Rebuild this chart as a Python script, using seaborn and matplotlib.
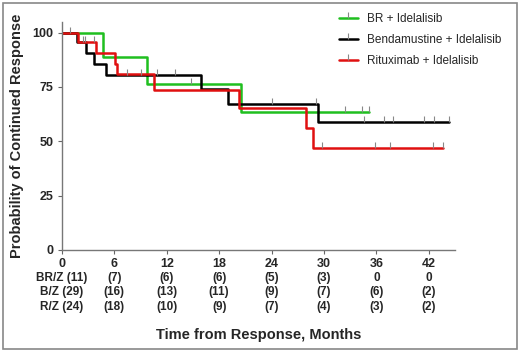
"""Kaplan-Meier style duration of response curves with number-at-risk table."""

import numpy as np
import pandas as pd
import seaborn as sns
import matplotlib.pyplot as plt
from matplotlib.lines import Line2D
from matplotlib.patches import Rectangle

# step curves: event times (months) and survival (%)
green_t = [0, 4.7, 9.8, 20.5]
green_s = [100, 88.9, 76.2, 63.5]
green_end = 35.1
black_t = [0, 1.7, 2.8, 3.7, 5.1, 15.9, 19.0, 29.3]
black_s = [100, 95.5, 90.7, 85.5, 80.6, 74.2, 67.1, 58.8]
black_end = 44.3
red_t = [0, 1.8, 3.9, 6.1, 6.3, 10.6, 20.3, 27.9, 28.7]
red_s = [100, 95.7, 90.7, 85.8, 80.9, 73.4, 65.2, 56.3, 46.8]
red_end = 43.6

# censor marks (months)
green_cens = [0.9, 14.8, 32.4, 34.3, 35.1]
black_cens = [2.4, 2.6, 7.5, 9.0, 10.9, 12.9, 24.0, 29.1, 34.6, 36.9, 37.9, 41.5, 42.6, 44.3]
red_cens = [3.7, 29.8, 35.8, 37.6, 42.5, 43.6]

groups = ["BR + Idelalisib", "Bendamustine + Idelalisib", "Rituximab + Idelalisib"]
colors = ["#1fbf1f", "#000000", "#e01010"]

# number at risk
risk_ticks = [0, 6, 12, 18, 24, 30, 36, 42]
risk_labels = ["BR/Z (11)", "B/Z (29)", "R/Z (24)"]
risk_br = ["(7)", "(6)", "(6)", "(5)", "(3)", "0", "0"]
risk_b = ["(16)", "(13)", "(11)", "(9)", "(7)", "(6)", "(2)"]
risk_r = ["(18)", "(10)", "(9)", "(7)", "(4)", "(3)", "(2)"]


def step_value(times, surv, t):
    idx = np.searchsorted(times, t, side="right") - 1
    return surv[idx]


sns.set_style("ticks")
plt.rcParams["font.family"] = ["Liberation Sans", "DejaVu Sans"]

curves = [(green_t, green_s, green_end, green_cens),
          (black_t, black_s, black_end, black_cens),
          (red_t, red_s, red_end, red_cens)]

rows = []
for name, (t, s, end, _) in zip(groups, curves):
    for ti, si in zip(list(t) + [end], list(s) + [s[-1]]):
        rows.append({"time": ti, "surv": si, "group": name})
df = pd.DataFrame(rows)

fig = plt.figure(figsize=(5.2, 3.52), dpi=100)
ax = fig.add_axes([0.119, 0.29, 0.756, 0.648])

sns.lineplot(data=df, x="time", y="surv", hue="group", palette=colors,
             hue_order=groups, drawstyle="steps-post", estimator=None,
             linewidth=1.8, ax=ax, legend=False)

for (t, s, end, cens), c in zip(curves, colors):
    ys = [step_value(t, s, ct) for ct in cens]
    ax.plot(cens, ys, linestyle="none", marker=2, markersize=4,
            markeredgewidth=0.8, color="#888888")

ax.set_xlim(0, 45)
ax.set_ylim(0, 105)
ax.set_xticks(risk_ticks)
ax.set_yticks([0, 25, 50, 75, 100])
ax.tick_params(axis="both", labelsize=9, length=3, width=0.8, color="#666666", pad=3)
for lab in ax.get_xticklabels() + ax.get_yticklabels():
    lab.set_fontweight("bold")
sns.despine(ax=ax)
for sp in ["left", "bottom"]:
    ax.spines[sp].set_color("#777777")
    ax.spines[sp].set_linewidth(1.0)

ax.set_xlabel("")
ax.set_ylabel("Probability of Continued Response", fontsize=10.5,
              fontweight="bold", labelpad=6)

# number-at-risk table
trans = ax.get_xaxis_transform()
for r, (lab, vals) in enumerate(zip(risk_labels, [risk_br, risk_b, risk_r])):
    y = -0.123 - r * 0.0635
    ax.text(0, y, lab, transform=trans, ha="center", va="center",
            fontsize=8.5, fontweight="bold")
    for xv, v in zip(risk_ticks[1:], vals):
        ax.text(xv, y, v, transform=trans, ha="center", va="center",
                fontsize=8.5, fontweight="bold")

ax.text(0.5, -0.373, "Time from Response, Months", transform=ax.transAxes,
        ha="center", va="center", fontsize=10.5, fontweight="bold")

handles = [Line2D([0], [0], color=c, lw=1.8, marker=2, markersize=4,
                  markeredgecolor="#888888", markeredgewidth=0.8)
           for c in colors]
ax.legend(handles, groups, loc="upper right", bbox_to_anchor=(1.145, 1.085),
          frameon=False, fontsize=8.5, handlelength=1.6, handletextpad=0.8,
          labelspacing=0.75, numpoints=1)

fig.patches.append(Rectangle((0.006, 0.009), 0.988, 0.982, transform=fig.transFigure,
                             fill=False, edgecolor="#888888", linewidth=1.2))

fig.savefig("out.png", dpi=100)
